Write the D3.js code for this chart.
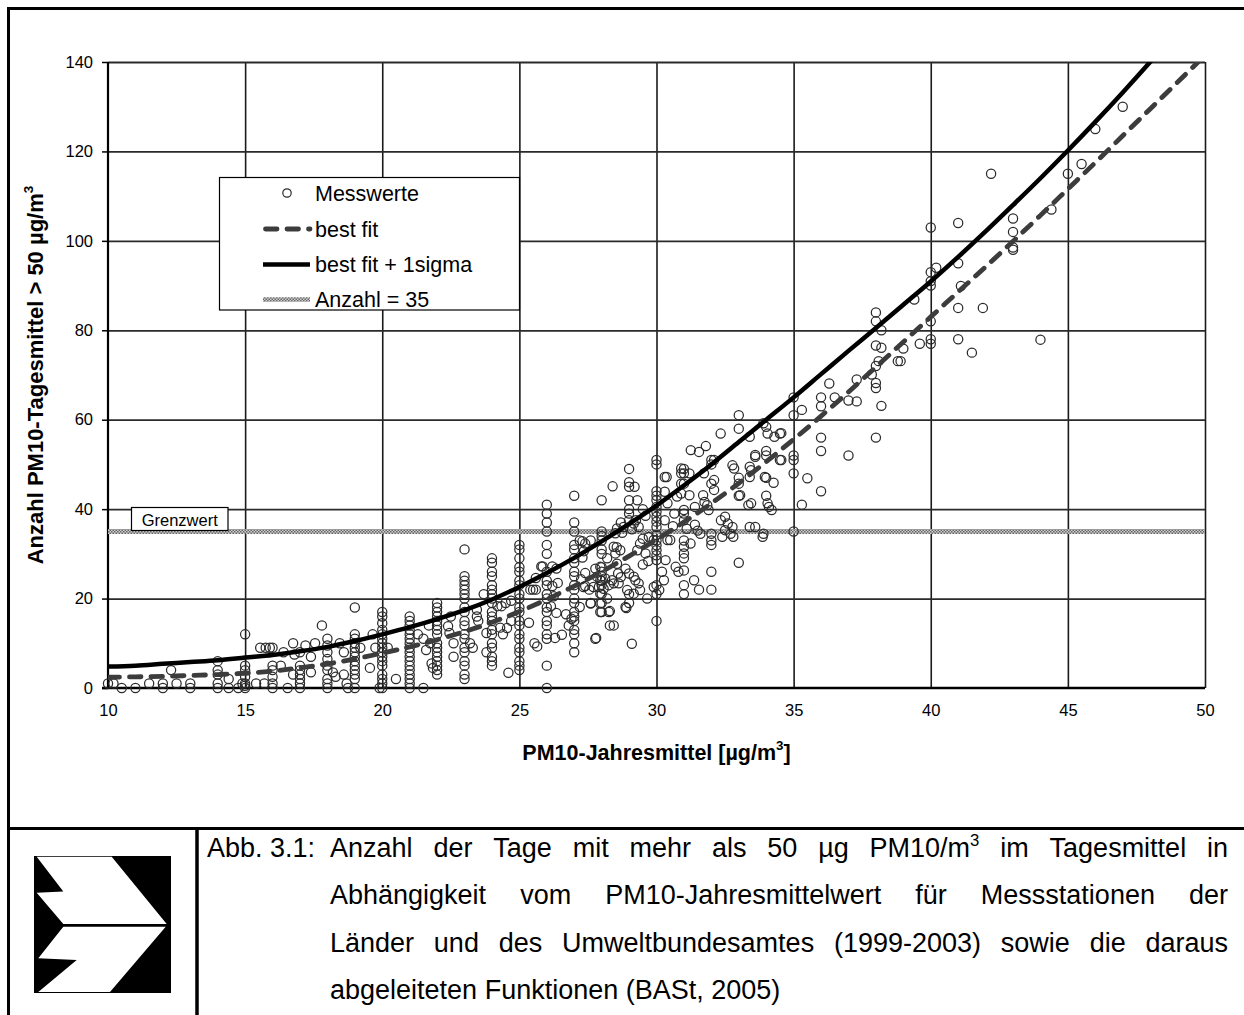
<!DOCTYPE html>
<html><head><meta charset="utf-8">
<script src="https://cdn.jsdelivr.net/npm/d3@7"></script>
<style>
body{margin:0;background:#fff}
svg{display:block}
text{font-family:"Liberation Sans",Arial,sans-serif;fill:#000}
</style>
</head><body>
<svg id="c" width="1244" height="1015"></svg>
<script>
// ---------------- DATA ----------------
const xTicks = [10, 15, 20, 25, 30, 35, 40, 45, 50];
const yTicks = [0, 20, 40, 60, 80, 100, 120, 140];
const grenzwert = 35;

// curve read-outs
const fitX = [10,11,12,13,14,15,16,17,18,19,20,21,22,23,24,25,26,27,28,29,30,31,32,33,34,35,36,37,38,39,40,41,42,43,44,45,46,47,48,49,50];
const bestFitY = [2.4,2.5,2.6,2.8,3.0,3.3,3.8,4.5,5.4,6.5,7.8,9.2,10.8,12.6,14.7,17.1,19.8,22.8,26.0,29.5,33.2,37.1,41.3,45.8,50.6,55.6,60.8,66.2,71.8,77.4,83.0,88.6,94.2,99.9,105.7,111.6,117.5,123.5,129.5,135.5,141.5];
const bestFitSigmaY = [4.8,5.0,5.4,5.8,6.2,6.8,7.4,8.2,9.2,10.5,12.0,13.6,15.4,17.4,19.8,22.6,25.7,29.1,32.8,36.7,40.8,45.3,50.0,55.0,60.0,65.0,70.2,75.4,80.5,85.7,90.9,96.4,102.1,108.0,114.0,120.2,126.6,133.2,140.0,147.0,154.2];

// Messwerte: stacked columns at whole-number annual means
const stackX = [10,12,13,14,15,16,17,18,19,20,21,22,23,24,25,26,27,28,29,30,31,32,33,34,35,36,38,40,41,43];
const stackY = [
  [1],
  [1,0],
  [1,0],
  [6,4,3,1,0],
  [12,5,4,2.5,1,0.5,0],
  [9,5,4,2.5,1,0],
  [8,5,4,3,2,1,0],
  [11,9.5,8,6.5,5,4,2,1,0],
  [18,12,11,10,9,8,7,6,5,4,3,2,0],
  [17,16,14.5,13,12,11,10,9,8,7,6,5,3,2,1,0],
  [16,15,14,13,12,11,10,9,8,7,6,5,4,3,2,1,0],
  [19,18,17,16,15,14,13,12,10,9,8,7,6,5,4,3],
  [31,25,24,23,22,21,20,18,17,15,14,12,11,9,8,6,5,3,2],
  [29,28,26,25,23,22,21,20,19,17,16,15,13,12,10,9,7,6,5],
  [32,31,29,27,26,24,23,21,20,18,17,15,14,12,11,9,8,6,5,4],
  [41,39,37,35,32,30,26,24,23,21,20,18,17,15,14,12,11,5,0],
  [43,37,35,32,31,29,28,26,25,23,22,20,19,17,16,15,13,12,10,8],
  [42,35,34,33,31,30,27,26,25,24,23,21,19,17],
  [49,46,45,42,40,39,37.5,25.6,21,19],
  [51,50,44,43,42,40.5,39.4,38.3,37.2,36,34.2,33,31.9,30.8,29.7,28.6,23,21,15],
  [49,48,45.7,39.8,39,37.5,33,31.6,30.1,29,26.3,23,21],
  [51,50,45.7,34.5,33,32,26,22],
  [61,58,47,45.7,43,28],
  [53,52,47,43],
  [65,61,52,51,48,35],
  [65,63,56,53,44],
  [84,82,76.6,72,68.2,67.1,56],
  [103,93,91,90,82,78,77],
  [104,95,85,78],
  [105,102,98.5,98]
];
// Messwerte: scattered points
const loosePoints = [
  [10.2,1],[10.5,0],[11,0],[11.5,1],[12.3,4],[12.5,1],[14.4,2],[14.4,0],[14.75,0],[14.9,1],
  [15.4,1],[15.55,9],[15.75,9],[15.9,9],[15.7,1],[16.3,5],[16.4,8],[16.55,0],[16.75,10],[16.75,3],
  [16.8,7.5],[17.2,9.5],[17.4,7],[17.4,3.5],[17.55,10],[17.8,14],[18.2,3.5],[18.3,2.5],[18.45,10],[18.6,8],
  [18.6,3],[18.7,1],[18.75,0],[19.2,9],[19.55,4.5],[19.65,12],[19.75,9],[19.9,0],[20.2,9],[20.5,2],
  [21.3,12],[21.5,11],[21.6,8.5],[21.5,0],[21.7,14],[21.75,10],[21.8,5.5],[21.85,4.5],[22.4,13.8],[22.45,12.3],
  [22.5,16],[22.6,7],[22.6,10],[23.2,10],[23.3,9],[23.45,16],[23.5,15],[23.45,17.5],[23.7,21],[23.8,12.3],
  [23.8,8],[24.2,18.3],[24.35,18.3],[24.5,19],[24.3,13.5],[24.4,12],[24.55,13.4],[24.6,3.4],[24.7,19.5],[24.7,15],
  [25.35,14.6],[25.4,22],[25.5,22],[25.6,22],[25.6,24.6],[25.55,10],[25.65,9.3],[25.8,27.2],[25.85,27.2],[26.2,27.2],
  [26.35,26.7],[26.4,23.5],[26.2,22.8],[26.25,20.5],[26.15,18.3],[26.35,16.8],[26.3,11.2],[26.55,11.9],[26.8,14],[26.9,15.5],
  [26.7,16.5],[27.25,24.3],[27.4,22.8],
  [27.77,26.7],[27.95,27.1],[28.13,24.5],[27.83,24.9],[27.95,24.1],[28.38,24.1],[28.44,23.4],[27.7,22.6],[27.9,22.6],[28.07,22.2],
  [28.26,23],[27.95,21.1],[28.2,20],[27.95,18.9],[27.6,18.9],[27.95,17],[28.26,17],[28.3,14],[28.44,14],[27.77,11],
  [29.1,9.9],[27.34,22.6],[27.2,18.1],[28.87,26.7],[29.17,24.9],[29.23,24.1],[29.35,23.4],[28.62,23.4],[28.93,21.9],[29.17,21.1],
  [29.4,21.9],[29.66,20],[28.87,18.1],[28.56,27.8],[28.5,30.1],[28.44,31.6],[28.68,30.8],[29.3,30.8],[29.4,32.3],[29.5,33.4],
  [29.35,36],[29.17,36.8],[29.72,33.8],[29.9,33.1],[29.6,30.1],[30.2,26],[30.27,24.1],[29.9,22.6],[30.1,21.9],[30.33,28.6],
  [30.4,33.1],[30.5,33.1],[30.7,27.1],[30.8,26],[31.37,24.1],[31.55,22],[31.24,32.3],[31.2,48],[31.2,43.1],[30.75,42.8],
  [30.9,43.5],[31.73,48],[31.7,43.1],[31.75,41.6],[31.85,40.9],[31.9,39.8],[32.1,44.3],[32.1,46.5],[32.1,51],[32.34,56.9],
  [32.5,35.3],[32.4,33.8],[32.7,34.5],[32.8,33.8],[32.77,49.8],[32.83,49.1],[33.05,43.1],[33.4,49.5],[33.45,48.7],[33.6,52.1],
  [33.6,51.7],[33.4,47.2],[33.35,40.9],[33.45,41.3],[33.4,36],[33.6,36],[33.4,56.2],[33.9,59.2],[34.0,58.4],[34.05,56.9],
  [33.95,47.2],[34.05,41.3],[34.1,40.5],[34.2,39.8],[34.3,56.2],[34.5,56.9],[34.27,45.9],[34.5,51],[33.87,33.8],[35.5,46.9],
  [35.3,41],[35.3,62.2],[30.3,47.2],[30.37,47.2],[30.3,43.9],[30.4,41.3],[30.3,37.5],[30.9,49.1],[30.9,48],[30.9,45.7],
  [31.25,53.2],[31.55,52.8],[31.8,54.1],[28.7,37],[28.8,36],[27.6,33],[27.4,32.3],[27.2,33],[27.3,29.2],[28.4,45.1],
  [29.3,42],[28.56,35.7],[28.5,34.6],[27.3,32.8],[27.35,30.6],[27.4,25.7],[27.55,22],[27.6,19],[27.8,11.2],[28.3,17.2],
  [28.9,17.9],[28.55,31.5],[28.75,34.7],[29.2,45],[29.5,40],[29.25,37.5],[29.1,35.5],[29.6,38.5],[29.7,28.4],[29.5,27.6],
  [28.2,29],[28.6,25.6],[28.7,24.8],[31.4,36.5],[31.5,35.2],[31.1,35.6],[30.6,36.2],[30.65,39],[31.4,40.5],[31.6,34.5],
  [32.35,37.5],[32.5,38.3],[32.6,36.8],[32.77,36],[33.9,34.5],
  [34.55,57],[34.55,51],[36.3,68.1],[36.5,65],[37.0,64.3],[37.3,64.1],[38.2,63.1],[37,52],[37.85,70.1],[37.3,69],
  [38.2,80],[38.2,76.1],[39.0,75.9],[38.1,73.1],[38.8,73.1],[38.9,73.1],[39.4,86.9],[39.6,77],[40.2,94],[41.1,89.9],
  [41.9,85],[41.5,75],[44.0,77.9],[42.2,115],[45.0,115],[45.5,117.2],[44.4,107],[46,125],[47,130]
];

const legendLabels = ["Messwerte", "best fit", "best fit + 1sigma", "Anzahl = 35"];
const captionLines = [
  ["Anzahl","der","Tage","mit","mehr","als","50","µg","PM10/m^3","im","Tagesmittel","in"],
  ["Abhängigkeit","vom","PM10-Jahresmittelwert","für","Messstationen","der"],
  ["Länder","und","des","Umweltbundesamtes","(1999-2003)","sowie","die","daraus"],
  ["abgeleiteten","Funktionen","(BASt,","2005)"]
];

// ---------------- DRAW ----------------
const svg = d3.select("#c");
const FONT = '"Liberation Sans", Arial, sans-serif';
const P = {l:108, r:1205, t:62, b:688};
const x = d3.scaleLinear().domain([10,50]).range([P.l,P.r]);
const y = d3.scaleLinear().domain([0,140]).range([P.b,P.t]);

const defs = svg.append("defs");
const pat = defs.append("pattern").attr("id","hatch").attr("width",3).attr("height",3)
  .attr("patternUnits","userSpaceOnUse");
pat.append("rect").attr("width",3).attr("height",3).attr("fill","#cfcfcf");
pat.append("rect").attr("width",1.5).attr("height",1.5).attr("fill","#666");
pat.append("rect").attr("x",1.5).attr("y",1.5).attr("width",1.5).attr("height",1.5).attr("fill","#666");
defs.append("clipPath").attr("id","plotclip").append("rect")
  .attr("x",P.l).attr("y",P.t).attr("width",P.r-P.l).attr("height",P.b-P.t);

// page frame
const frame = svg.append("g").attr("stroke","#000").attr("stroke-width",3);
frame.append("line").attr("x1",8.5).attr("y1",7).attr("x2",8.5).attr("y2",1015);
frame.append("line").attr("x1",7).attr("y1",8.5).attr("x2",1244).attr("y2",8.5);
frame.append("line").attr("x1",7).attr("y1",828.5).attr("x2",1244).attr("y2",828.5);
frame.append("line").attr("x1",197).attr("y1",828).attr("x2",197).attr("y2",1015).attr("stroke-width",3.5);

// gridlines
const gx = svg.append("g").attr("transform",`translate(0,${P.b})`)
  .call(d3.axisBottom(x).tickValues(xTicks.slice(1)).tickSize(-(P.b-P.t)).tickFormat(""));
gx.select(".domain").remove();
gx.selectAll("line").attr("stroke","#1a1a1a").attr("stroke-width",1.6);
const gy = svg.append("g").attr("transform",`translate(${P.l},0)`)
  .call(d3.axisLeft(y).tickValues(yTicks.slice(1)).tickSize(-(P.r-P.l)).tickFormat(""));
gy.select(".domain").remove();
gy.selectAll("line").attr("stroke","#2a2a2a").attr("stroke-width",1.8);

// axes
const ay = svg.append("g").attr("transform",`translate(${P.l},0)`)
  .call(d3.axisLeft(y).tickValues(yTicks).tickSize(6).tickPadding(9));
ay.select(".domain").attr("stroke","#000").attr("stroke-width",2.2).attr("d",`M0,${P.t}V${P.b}`);
ay.selectAll("line").attr("stroke","#000").attr("stroke-width",1.5);
ay.selectAll("text").attr("font-family",FONT).attr("font-size",16.5).attr("fill","#000");

const ax = svg.append("g").attr("transform",`translate(0,${P.b})`)
  .call(d3.axisBottom(x).tickValues(xTicks).tickSize(0).tickPadding(0));
ax.select(".domain").attr("stroke","#000").attr("stroke-width",2.6).attr("d",`M${P.l-6},0H${P.r}`);
ax.selectAll("text").attr("font-family",FONT).attr("font-size",16.5).attr("fill","#000")
  .attr("dy",null).attr("y",28);

// Anzahl = 35 line
svg.append("line").attr("x1",x(10)).attr("x2",x(50)).attr("y1",y(grenzwert)).attr("y2",y(grenzwert))
  .attr("stroke","url(#hatch)").attr("stroke-width",5);

// scatter
const pts = [];
stackX.forEach((xv,i)=>stackY[i].forEach(yv=>pts.push([xv,yv])));
loosePoints.forEach(p=>pts.push(p));
svg.append("g").selectAll("circle").data(pts).join("circle")
  .attr("cx",d=>x(d[0])).attr("cy",d=>y(d[1])).attr("r",4.6)
  .attr("fill","none").attr("stroke","#2b2b2b").attr("stroke-width",1.25);

// curves
const line = d3.line().x(d=>x(d[0])).y(d=>y(d[1])).curve(d3.curveMonotoneX);
const curves = svg.append("g").attr("clip-path","url(#plotclip)");
curves.append("path").attr("d",line(fitX.map((v,i)=>[v,bestFitY[i]])))
  .attr("fill","none").attr("stroke","#3c3c3c").attr("stroke-width",4.8)
  .attr("stroke-dasharray","11.5,10").attr("stroke-linecap","round");
curves.append("path").attr("d",line(fitX.map((v,i)=>[v,bestFitSigmaY[i]])))
  .attr("fill","none").attr("stroke","#000").attr("stroke-width",4.5);

// Grenzwert label
const gb = svg.append("g");
gb.append("rect").attr("x",131.5).attr("y",y(grenzwert)-24).attr("width",96.5).attr("height",23)
  .attr("fill","#fff").attr("stroke","#000").attr("stroke-width",1.2);
gb.append("text").attr("x",179.7).attr("y",y(grenzwert)-6).attr("text-anchor","middle")
  .attr("font-size",16.5).text("Grenzwert");

// legend
const lg = svg.append("g");
lg.append("rect").attr("x",219.5).attr("y",177.5).attr("width",300).attr("height",132.5)
  .attr("fill","#fff").attr("stroke","#000").attr("stroke-width",1.2);
const rowsY = [193, 229, 264.5, 299.5];
lg.append("circle").attr("cx",287).attr("cy",rowsY[0]).attr("r",4.2).attr("fill","none")
  .attr("stroke","#2b2b2b").attr("stroke-width",1.2);
lg.append("line").attr("x1",265.5).attr("x2",310).attr("y1",rowsY[1]).attr("y2",rowsY[1])
  .attr("stroke","#3c3c3c").attr("stroke-width",4.8).attr("stroke-dasharray","11.5,10").attr("stroke-linecap","round");
lg.append("line").attr("x1",263).attr("x2",310).attr("y1",rowsY[2]).attr("y2",rowsY[2])
  .attr("stroke","#000").attr("stroke-width",4.5);
lg.append("line").attr("x1",263).attr("x2",310).attr("y1",rowsY[3]).attr("y2",rowsY[3])
  .attr("stroke","url(#hatch)").attr("stroke-width",4.5);
legendLabels.forEach((t,i)=>{
  lg.append("text").attr("x",315).attr("y",rowsY[i]+7.6).attr("font-size",21.5).text(t);
});

// axis titles
function richText(sel, str, size){
  const parts = str.split("^");
  sel.append("tspan").text(parts[0]);
  if(parts.length>1){
    sel.append("tspan").attr("font-size",size*0.62).attr("dy",-size*0.42).text(parts[1][0]);
    if(parts[1].length>1) sel.append("tspan").attr("dy",size*0.42).text(parts[1].slice(1));
  }
  return sel;
}
const xt = svg.append("text").attr("x",(P.l+P.r)/2).attr("y",759.5).attr("text-anchor","middle")
  .attr("font-size",21.5).attr("font-weight","bold");
richText(xt,"PM10-Jahresmittel [µg/m^3]",21.5);
const yt = svg.append("text").attr("transform",`translate(42.5,${(P.t+P.b)/2}) rotate(-90)`)
  .attr("text-anchor","middle").attr("font-size",22).attr("font-weight","bold");
richText(yt,"Anzahl PM10-Tagesmittel > 50 µg/m^3",22);

// logo
const logo = svg.append("g");
logo.append("rect").attr("x",34).attr("y",856).attr("width",137).attr("height",137).attr("fill","#000");
logo.append("polygon").attr("points","36.7,856.7 111.7,856.7 166.7,924 63.3,924 36.7,892.7 63.3,891.5").attr("fill","#fff");
logo.append("polygon").attr("points","63.3,926.7 165.7,926.7 110,992 38.3,992 76.7,960 38.3,958.3").attr("fill","#fff");

// caption
const capSize = 27, capX0 = 330, capX1 = 1228, capY0 = 857, capDy = 47.3;
svg.append("text").attr("x",207).attr("y",capY0).attr("font-size",capSize).text("Abb. 3.1:");
captionLines.forEach((words,li)=>{
  const yy = capY0 + li*capDy;
  const nodes = words.map(w=>richText(svg.append("text").attr("y",yy).attr("font-size",capSize),w,capSize));
  const widths = nodes.map(n=>n.node().getComputedTextLength());
  const total = d3.sum(widths);
  const last = li===captionLines.length-1;
  const gap = last ? capSize*0.278 : (capX1-capX0-total)/(words.length-1);
  let cx = capX0;
  nodes.forEach((n,i)=>{ n.attr("x",cx); cx += widths[i]+gap; });
});
</script>
</body></html>
